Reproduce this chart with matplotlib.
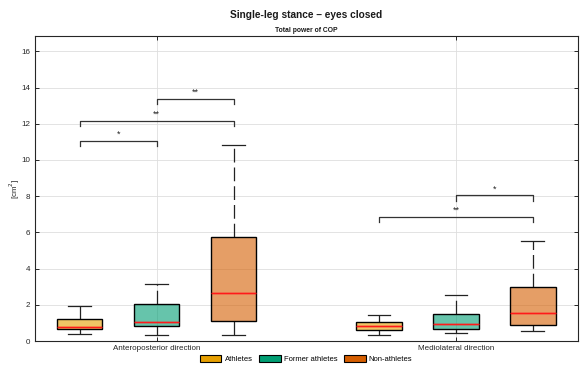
import matplotlib
matplotlib.use("Agg")
import matplotlib.pyplot as plt
from matplotlib.patches import Patch

plt.rcParams['font.family'] = ['Liberation Sans', 'DejaVu Sans']

# Categories and groups
directions = ["Anteroposterior direction", "Mediolateral direction"]
groups = ["Athletes", "Former athletes", "Non-athletes"]
colors = ["#E69F00", "#009E73", "#D55E00"]

# Box statistics per direction (rows) and group (columns), in cm^2
whislo = [[0.39, 0.35, 0.35], [0.35, 0.42, 0.57]]
q1 = [[0.65, 0.83, 1.10], [0.61, 0.66, 0.87]]
med = [[0.79, 1.03, 2.65], [0.85, 0.92, 1.53]]
q3 = [[1.20, 2.06, 5.72], [1.03, 1.49, 2.98]]
whishi = [[1.91, 3.13, 10.81], [1.43, 2.52, 5.50]]

# Significance brackets: (direction, group a, group b, height, label)
sig_dir = [0, 0, 0, 1, 1]
sig_a = [0, 0, 1, 0, 1]
sig_b = [1, 2, 2, 2, 2]
sig_y = [11.03, 12.14, 13.37, 6.86, 8.04]
sig_lbl = ["*", "**", "**", "**", "*"]

yticks = [0, 2, 4, 6, 8, 10, 12, 14, 16]

W, H = 580, 369
fig = plt.figure(figsize=(W / 100, H / 100), dpi=100)
ax = fig.add_axes([34.5 / W, 1 - 341 / H, (578 - 34.5) / W, (341 - 36.3) / H])

offset = 0.257
bw = 0.152
for d in range(len(directions)):
    for g in range(len(groups)):
        pos = d + 1 + (g - 1) * offset
        st = [dict(whislo=whislo[d][g], q1=q1[d][g], med=med[d][g],
                   q3=q3[d][g], whishi=whishi[d][g], fliers=[])]
        ax.bxp(st, positions=[pos], widths=bw, patch_artist=True,
               showfliers=False,
               boxprops=dict(facecolor=colors[g], alpha=0.6, edgecolor="black", linewidth=0.9),
               medianprops=dict(color="#FF1A1A", linewidth=1.0),
               whiskerprops=dict(color="#222222", linewidth=0.9, linestyle=(0, (11, 4))),
               capprops=dict(color="#222222", linewidth=0.9),
               capwidths=bw / 2, zorder=3)
        # solid box outline on top of the translucent fill
        ax.bxp(st, positions=[pos], widths=bw, patch_artist=True, showfliers=False,
               showcaps=False,
               boxprops=dict(facecolor="none", edgecolor="black", linewidth=0.9),
               medianprops=dict(color="#FF1A1A", linewidth=1.0),
               whiskerprops=dict(linewidth=0), zorder=4)

leg = 0.28
for d, a, b, y, lbl in zip(sig_dir, sig_a, sig_b, sig_y, sig_lbl):
    xa = d + 1 + (a - 1) * offset
    xb = d + 1 + (b - 1) * offset
    ax.plot([xa, xa, xb, xb], [y - leg, y, y, y - leg], color="#333333", lw=0.9, zorder=5)
    ax.text((xa + xb) / 2, y + 0.12, lbl, ha="center", va="bottom", fontsize=6.5, color="#222222")

ax.set_xlim(0.592, 2.408)
ax.set_ylim(0, 16.83)
ax.set_xticks([1, 2])
ax.set_xticklabels(directions, fontsize=5.8, color="#262626")
ax.set_yticks(yticks)
ax.set_yticklabels([str(v) for v in yticks], fontsize=5.8, color="#262626")
ax.tick_params(direction="in", top=True, right=True, length=3, width=0.7, color="#262626", pad=3)
ax.grid(True, color="#DEDEDE", linewidth=0.6, zorder=0)
ax.set_axisbelow(True)
for s in ax.spines.values():
    s.set_color("#262626")
    s.set_linewidth(0.8)
ax.set_ylabel("[cm$^2$]", fontsize=5.8, color="#262626", labelpad=-0.5)

fig.text(0.5 * (34.5 + 578) / W, 1 - 15 / H, "Single-leg stance – eyes closed",
         ha="center", va="center", fontsize=7.3, fontweight="bold", color="#1a1a1a")
fig.text(0.5 * (34.5 + 578) / W, 1 - 30 / H, "Total power of COP",
         ha="center", va="center", fontsize=4.9, fontweight="bold", color="#1a1a1a")

handles = [Patch(facecolor=c, edgecolor="black", linewidth=0.8) for c in colors]
fig.legend(handles, groups, loc="center", bbox_to_anchor=(0.5 * (34.5 + 578) / W, 1 - 359 / H),
           ncol=3, frameon=False, fontsize=5.5, handlelength=2.8, handleheight=1.1,
           handletextpad=0.4, columnspacing=0.9)

fig.savefig("out.png", dpi=100)
